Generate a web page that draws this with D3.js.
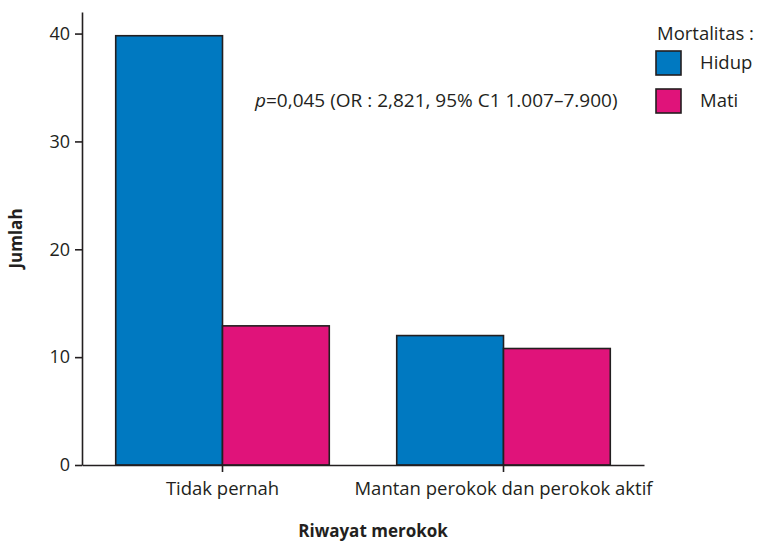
<!DOCTYPE html>
<html>
<head>
<meta charset="utf-8">
<script src="https://cdn.jsdelivr.net/npm/d3@7"></script>
<style>
  html, body { margin: 0; padding: 0; background: #fff; }
  svg { display: block; }
</style>
</head>
<body>
<div id="chart"></div>
<script>
const categories = ['Tidak pernah', 'Mantan perokok dan perokok aktif'];
const seriesNames = ['Hidup', 'Mati'];
const hidupValues = [39.8, 12.0];
const matiValues = [12.9, 10.8];
const yTicks = [0, 10, 20, 30, 40];

const COLORS = { Hidup: '#0079c1', Mati: '#e0137a' };
const INK = '#231f20';
const FONT = '"Open Sans", Lato, sans-serif';

const W = 758, H = 543;
const mL = 82, mR = 114, mT = 12, mB = 78;

const rows = categories.map((c, i) => ({ cat: c, Hidup: hidupValues[i], Mati: matiValues[i] }));

const svg = d3.select('#chart').append('svg').attr('width', W).attr('height', H);

const x0 = d3.scaleBand().domain(categories).range([mL, W - mR]).paddingInner(0.24).paddingOuter(0.12);
const x1 = d3.scaleBand().domain(seriesNames).range([0, x0.bandwidth()]);
const y = d3.scaleLinear().domain([0, 42]).range([H - mB, mT]);

// bars
const groups = svg.append('g').selectAll('g').data(rows).join('g')
  .attr('transform', d => `translate(${x0(d.cat)},0)`);
groups.selectAll('rect').data(d => seriesNames.map(s => ({ s, v: d[s] }))).join('rect')
  .attr('x', d => x1(d.s)).attr('width', x1.bandwidth())
  .attr('y', d => y(d.v)).attr('height', d => y(0) - y(d.v))
  .attr('fill', d => COLORS[d.s]).attr('stroke', INK).attr('stroke-width', 1.6);

// y axis
const yAxis = svg.append('g').attr('transform', `translate(${mL},0)`)
  .call(d3.axisLeft(y).tickValues(yTicks).tickSize(7).tickPadding(5).tickSizeOuter(0));
yAxis.select('.domain').attr('stroke', INK).attr('stroke-width', 1.6);
yAxis.selectAll('.tick line').attr('stroke', INK).attr('stroke-width', 1.6);
yAxis.selectAll('.tick text').attr('font-family', FONT).attr('font-size', 18).attr('fill', INK);

// x axis
const xAxis = svg.append('g').attr('transform', `translate(0,${y(0)})`)
  .call(d3.axisBottom(x0).tickSize(7).tickPadding(10).tickSizeOuter(0));
xAxis.select('.domain').attr('stroke', INK).attr('stroke-width', 1.6);
xAxis.selectAll('.tick line').attr('stroke', INK).attr('stroke-width', 1.6);
xAxis.selectAll('.tick text').attr('font-family', FONT).attr('font-size', 18.5).attr('fill', INK);

// axis titles
svg.append('text').attr('transform', `translate(22,${(mT + y(0)) / 2}) rotate(-90)`)
  .attr('text-anchor', 'middle').attr('font-family', FONT).attr('font-weight', 700)
  .attr('font-size', 17).attr('fill', INK).text('Jumlah');
svg.append('text').attr('x', 373).attr('y', 537).attr('text-anchor', 'middle')
  .attr('font-family', FONT).attr('font-weight', 700).attr('font-size', 17).attr('fill', INK)
  .text('Riwayat merokok');

// annotation
const ann = svg.append('text').attr('x', 255).attr('y', 107)
  .attr('font-family', FONT).attr('font-size', 19).attr('fill', INK);
ann.append('tspan').attr('font-style', 'italic').text('p');
ann.append('tspan').text('=0,045 (OR : 2,821, 95% C1 1.007–7.900)');

// legend
const lg = svg.append('g').attr('transform', 'translate(655,0)');
lg.append('text').attr('x', 2).attr('y', 40).attr('font-family', FONT).attr('font-size', 18.5)
  .attr('fill', INK).text('Mortalitas :');
seriesNames.forEach((s, i) => {
  const yy = 51 + i * 38;
  lg.append('rect').attr('x', 1).attr('y', yy).attr('width', 25).attr('height', 24)
    .attr('fill', COLORS[s]).attr('stroke', INK).attr('stroke-width', 1.6);
  lg.append('text').attr('x', 45).attr('y', yy + 18).attr('font-family', FONT).attr('font-size', 18.5)
    .attr('fill', INK).text(s);
});
</script>
</body>
</html>
